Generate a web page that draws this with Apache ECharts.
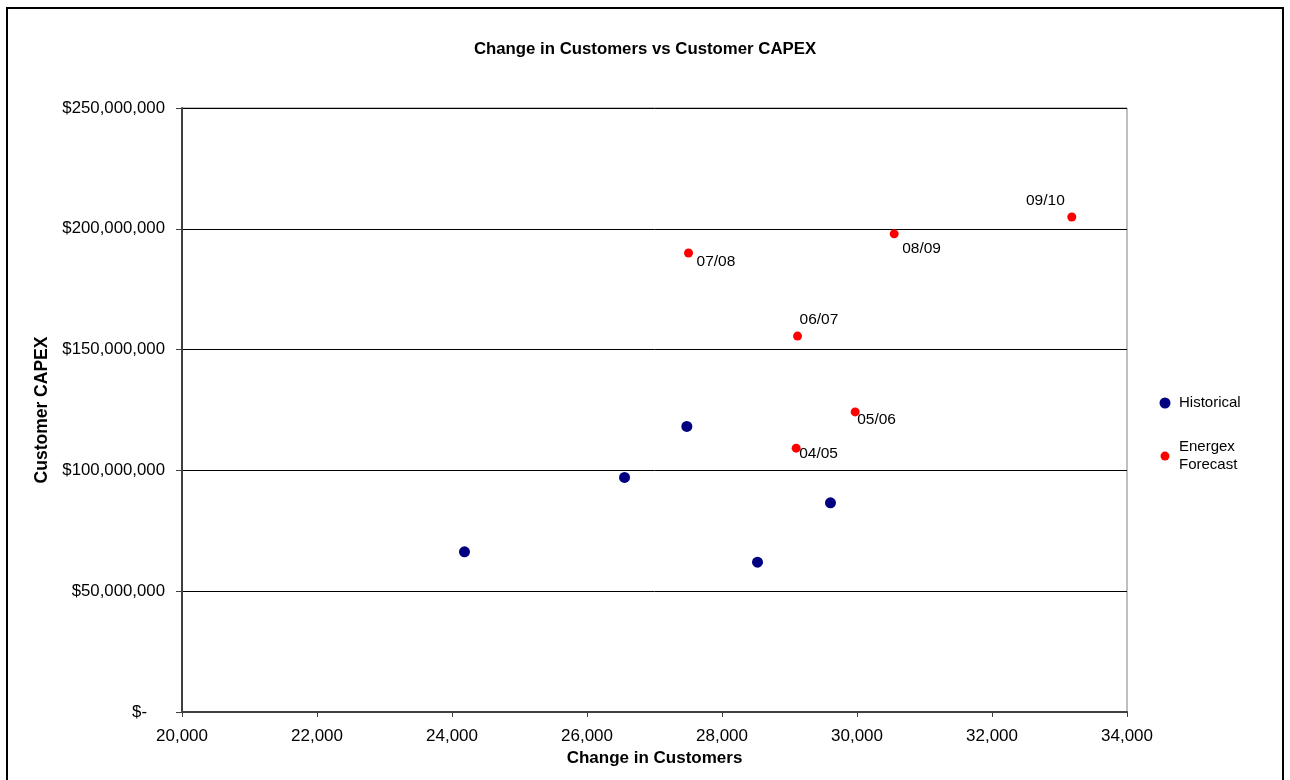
<!DOCTYPE html>
<html>
<head>
<meta charset="utf-8">
<script src="https://cdn.jsdelivr.net/npm/echarts@6/dist/echarts.min.js"></script>
<style>
  html, body { margin: 0; padding: 0; background: #fff; }
  #chart { width: 1290px; height: 780px; }
</style>
</head>
<body>
<div id="chart"></div>
<script>
// Change in customers (x) against customer capital expenditure (y)
const historicalCustomers = [24185, 26556, 27479, 28526, 29607];
const historicalCapex     = [66300000, 97100000, 118200000, 62000000, 86600000];

const forecastYears     = ['04/05', '05/06', '06/07', '07/08', '08/09', '09/10'];
const forecastCustomers = [29099, 29973, 29119, 27504, 30551, 33182];
const forecastCapex     = [109200000, 124200000, 155600000, 190000000, 197900000, 204900000];

const seriesNames = ['Historical', 'Energex\nForecast'];

// Where each forecast year label sits next to its point
const labelPlacement = {
  '04/05': { align: 'left',  offset: [3, 6] },
  '05/06': { align: 'left',  offset: [2, 8] },
  '06/07': { align: 'left',  offset: [2, -16] },
  '07/08': { align: 'left',  offset: [8, 9] },
  '08/09': { align: 'left',  offset: [8, 15] },
  '09/10': { align: 'right', offset: [-7, -16] }
};

const FONT = '"Liberation Sans", Arial, sans-serif';

function money(v) {
  if (v === 0) return '{z|$-}';
  return '$' + v.toLocaleString('en-US');
}

const historicalData = historicalCustomers.map((x, i) => [x, historicalCapex[i]]);
const forecastData = forecastCustomers.map((x, i) => {
  const p = labelPlacement[forecastYears[i]];
  return {
    value: [x, forecastCapex[i]],
    name: forecastYears[i],
    label: { align: p.align, offset: p.offset }
  };
});

const chart = echarts.init(document.getElementById('chart'));
chart.setOption({
  animation: false,
  backgroundColor: '#ffffff',
  textStyle: { fontFamily: FONT },
  title: {
    text: 'Change in Customers vs Customer CAPEX',
    left: 'center',
    top: 36,
    textStyle: { fontFamily: FONT, fontSize: 16.8, fontWeight: 'bold', color: '#000' }
  },
  graphic: [{
    type: 'rect',
    shape: { x: 7, y: 8, width: 1276, height: 800 },
    style: { fill: 'none', stroke: '#000', lineWidth: 2 },
    silent: true
  }],
  grid: {
    left: 182, right: 163, top: 108, bottom: 68,
    show: true, borderColor: '#808080', borderWidth: 1, backgroundColor: '#fff'
  },
  legend: [{
    data: [seriesNames[0]],
    orient: 'vertical',
    left: 1154.5, top: 389,
    icon: 'circle', itemWidth: 11, itemHeight: 11,
    itemStyle: { opacity: 1 },
    textStyle: { fontFamily: FONT, fontSize: 15, color: '#000', lineHeight: 18, padding: [0, 0, 0, 3.5] }
  }, {
    data: [seriesNames[1]],
    orient: 'vertical',
    left: 1155.5, top: 433.5,
    icon: 'circle', itemWidth: 9, itemHeight: 9,
    itemStyle: { opacity: 1 },
    textStyle: { fontFamily: FONT, fontSize: 15, color: '#000', lineHeight: 17.6, padding: [0, 0, 0, 4.5] }
  }],
  xAxis: {
    type: 'value',
    min: 20000, max: 34000, interval: 2000,
    name: 'Change in Customers',
    nameLocation: 'middle',
    nameGap: 31,
    nameTextStyle: { fontFamily: FONT, fontSize: 17, fontWeight: 'bold', color: '#000' },
    axisLine: { show: true, onZero: false, lineStyle: { color: '#404040', width: 2 } },
    axisTick: { show: true, length: 5, lineStyle: { color: '#404040', width: 1 } },
    axisLabel: {
      fontFamily: FONT, fontSize: 17, color: '#000', margin: 16,
      formatter: v => v.toLocaleString('en-US')
    },
    splitLine: { show: false }
  },
  yAxis: {
    type: 'value',
    min: 0, max: 250000000, interval: 50000000,
    name: 'Customer CAPEX',
    nameLocation: 'middle',
    nameGap: 130,
    nameRotate: 90,
    nameTextStyle: { fontFamily: FONT, fontSize: 17.5, fontWeight: 'bold', color: '#000' },
    axisLine: { show: true, onZero: false, lineStyle: { color: '#404040', width: 2 } },
    axisTick: { show: true, length: 6, lineStyle: { color: '#404040', width: 1 } },
    axisLabel: {
      fontFamily: FONT, fontSize: 16.8, color: '#000', margin: 17,
      formatter: money,
      rich: { z: { fontFamily: FONT, fontSize: 16.8, color: '#000', padding: [0, 18, 0, 0] } }
    },
    splitLine: { show: true, lineStyle: { color: '#000', width: 1 } }
  },
  series: [{
    name: seriesNames[0],
    type: 'scatter',
    symbol: 'circle',
    symbolSize: 11,
    itemStyle: { color: '#000080', opacity: 1 },
    data: historicalData,
    z: 3
  }, {
    name: seriesNames[1],
    type: 'scatter',
    symbol: 'circle',
    symbolSize: 9,
    itemStyle: { color: '#ff0000', opacity: 1 },
    label: {
      show: true,
      position: 'inside',
      verticalAlign: 'middle',
      formatter: p => p.name,
      fontFamily: FONT, fontSize: 15.5, color: '#000', opacity: 1
    },
    data: forecastData,
    z: 3
  }]
});
</script>
</body>
</html>
